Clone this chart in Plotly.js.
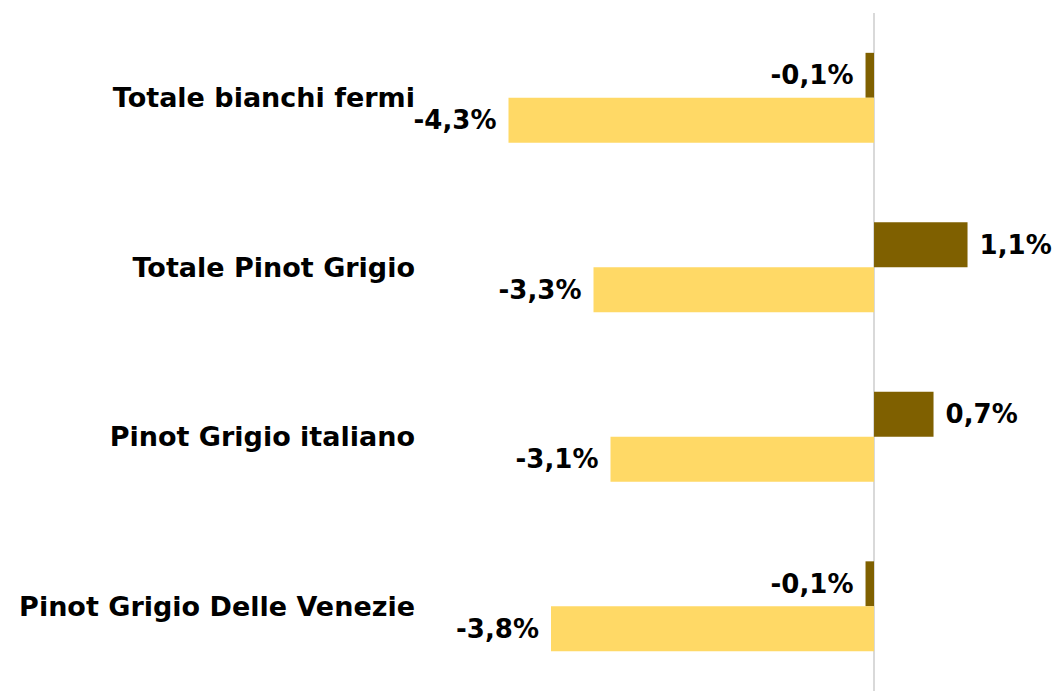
<!DOCTYPE html>
<html>
<head>
<meta charset="utf-8">
<script src="https://cdn.plot.ly/plotly-3.0.1.min.js"></script>
<style>html,body{margin:0;padding:0;background:#fff;}#chart{width:1059px;height:691px;}</style>
</head>
<body>
<div id="chart"></div>
<script>
const categories = ["Totale bianchi fermi", "Totale Pinot Grigio", "Pinot Grigio italiano", "Pinot Grigio Delle Venezie"];
const seriesDark = [-0.1, 1.1, 0.7, -0.1];
const seriesLight = [-4.3, -3.3, -3.1, -3.8];

function fmt(v) {
  const s = v.toFixed(1).replace('.', ',') + '%';
  return v < 0 ? s + '\u00a0' : '\u00a0' + s;
}

const tickFont = {family: "DejaVu Sans", size: 27, color: "#000000", weight: 700};
const valueFont = {family: "DejaVu Sans", size: 26, color: "#000000", weight: 700};

const traces = [
  {
    type: 'bar', orientation: 'h', y: categories, x: seriesDark,
    marker: {color: '#7f6000'},
    text: seriesDark.map(fmt), textposition: 'outside', cliponaxis: false,
    textfont: valueFont, hoverinfo: 'none'
  },
  {
    type: 'bar', orientation: 'h', y: categories, x: seriesLight,
    marker: {color: '#ffd966'},
    text: seriesLight.map(fmt), textposition: 'outside', cliponaxis: false,
    textfont: valueFont, hoverinfo: 'none'
  }
];

const layout = {
  width: 1059, height: 691,
  margin: {l: 420, r: 0, t: 13, b: 0},
  paper_bgcolor: '#ffffff', plot_bgcolor: '#ffffff',
  barmode: 'group', bargap: 0.47, bargroupgap: 0,
  showlegend: false,
  xaxis: {
    range: [-5.341, 2.176], showticklabels: false, showgrid: false,
    zeroline: true, zerolinecolor: '#d9d9d9', zerolinewidth: 1.5, showline: false, fixedrange: true
  },
  yaxis: {
    autorange: 'reversed', showgrid: false, zeroline: false, showline: false,
    ticks: '', ticklabelstandoff: 4,
    tickfont: tickFont, automargin: false, fixedrange: true
  }
};

Plotly.newPlot('chart', traces, layout, {displayModeBar: false, staticPlot: true});
</script>
</body>
</html>
